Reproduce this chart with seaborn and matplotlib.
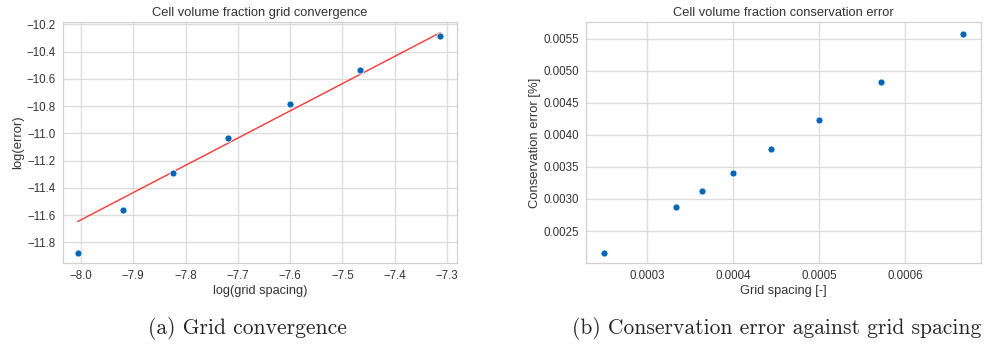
import numpy as np
import pandas as pd
import matplotlib
matplotlib.use("Agg")
import matplotlib.pyplot as plt
import seaborn as sns

# Grid convergence: log of grid spacing vs log of volume-fraction error
log_spacing = [-8.006, -7.919, -7.824, -7.719, -7.601, -7.467, -7.313]
log_error = [-11.876, -11.565, -11.291, -11.032, -10.785, -10.538, -10.283]

# Second-order reference line: log(error) = slope * log(spacing) + intercept
ref_slope = 2.0
ref_intercept = 4.365

# Conservation error against grid spacing
grid_spacing = [0.00025, 0.0003333, 0.0003636, 0.0004, 0.0004444, 0.0005, 0.0005714, 0.0006667]
cons_error = [0.002162, 0.002869, 0.003119, 0.003410, 0.003779, 0.004237, 0.004819, 0.005578]

sns.set_theme(style="whitegrid")
plt.rcParams["font.family"] = ["Liberation Sans", "DejaVu Sans"]
plt.rcParams["axes.edgecolor"] = "#d0d0d0"
plt.rcParams["grid.color"] = "#dcdcdc"

point_color = "#0265b5"
text_color = "#333333"

fig = plt.figure(figsize=(9.92, 3.45), dpi=100)
ax1 = fig.add_axes([0.0635, 0.2377, 0.3972, 0.6985])
ax2 = fig.add_axes([0.5907, 0.2377, 0.3983, 0.6985])

# (a) grid convergence
conv = pd.DataFrame({"log_spacing": log_spacing, "log_error": log_error})
sns.scatterplot(data=conv, x="log_spacing", y="log_error", ax=ax1,
                color=point_color, s=26, edgecolor="white", linewidth=0.6, zorder=3)
xs = np.array([log_spacing[0], log_spacing[-1]])
sns.lineplot(x=xs, y=ref_slope * xs + ref_intercept, ax=ax1,
             color="#ff2020", linewidth=1.0, alpha=0.9, zorder=2)
ax1.set_xlim(-8.0344, -7.2809)
ax1.set_ylim(-11.952, -10.183)
ax1.set_xticks(np.arange(-8.0, -7.25, 0.1))
ax1.set_yticks(np.arange(-11.8, -10.15, 0.2))
ax1.set_title("Cell volume fraction grid convergence", fontsize=9.3, pad=4, color=text_color)
ax1.set_xlabel("log(grid spacing)", fontsize=9.2, labelpad=2, color=text_color)
ax1.set_ylabel("log(error)", fontsize=9.4, labelpad=2, color=text_color)

# (b) conservation error
cons = pd.DataFrame({"grid_spacing": grid_spacing, "cons_error": cons_error})
sns.scatterplot(data=cons, x="grid_spacing", y="cons_error", ax=ax2,
                color=point_color, s=26, edgecolor="white", linewidth=0.6, zorder=3)
ax2.set_xlim(0.0002293, 0.0006878)
ax2.set_ylim(0.002001, 0.00576)
ax2.set_xticks([0.0003, 0.0004, 0.0005, 0.0006])
ax2.set_yticks([0.0025, 0.0030, 0.0035, 0.0040, 0.0045, 0.0050, 0.0055])
ax2.xaxis.set_major_formatter(matplotlib.ticker.FormatStrFormatter("%.4f"))
ax2.yaxis.set_major_formatter(matplotlib.ticker.FormatStrFormatter("%.4f"))
ax2.set_title("Cell volume fraction conservation error", fontsize=9.3, pad=4, color=text_color)
ax2.set_xlabel("Grid spacing [-]", fontsize=9.2, labelpad=2, color=text_color)
ax2.set_ylabel("Conservation error [%]", fontsize=9.4, labelpad=2, color=text_color)

for ax in (ax1, ax2):
    ax.tick_params(labelsize=8.3, pad=5, colors=text_color, length=0)
    for sp in ax.spines.values():
        sp.set_linewidth(0.9)

fig.text(0.249, 0.049, "(a) Grid convergence", fontsize=15.5, family="cmr10",
         ha="center", va="center")
fig.text(0.783, 0.049, "(b) Conservation error against grid spacing", fontsize=15.5,
         family="cmr10", ha="center", va="center")

fig.savefig("out.png", dpi=100)
